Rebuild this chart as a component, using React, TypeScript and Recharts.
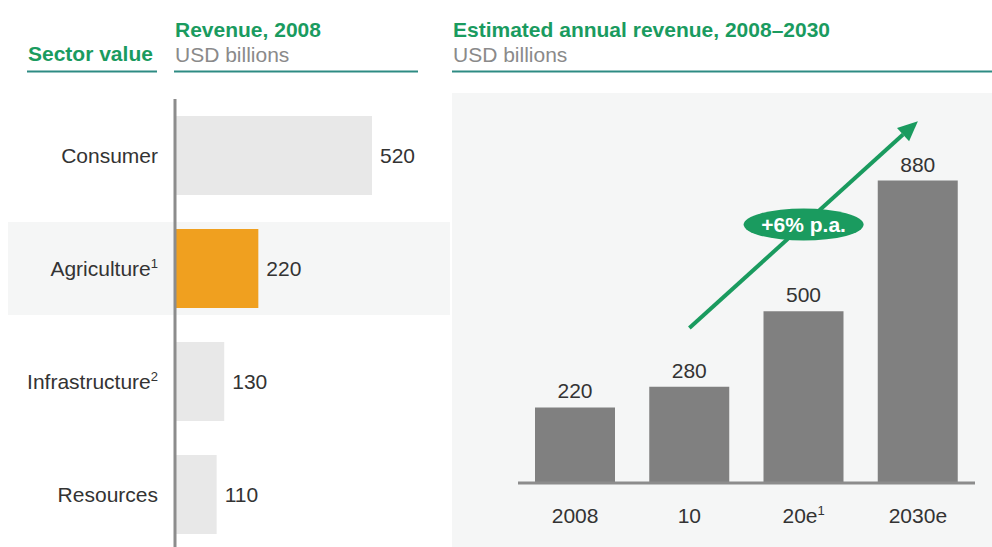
import React from 'react';
import { BarChart, Bar, XAxis, YAxis, Cell, LabelList, ReferenceArea, ReferenceLine } from 'recharts';

// ---- data ----
const sectors = ['Consumer', 'Agriculture', 'Infrastructure', 'Resources'];
const sectorFootnotes = ['', '1', '2', ''];
const sectorRevenue2008 = [520, 220, 130, 110];
const highlightSector = 'Agriculture';

const years = ['2008', '10', '20e', '2030e'];
const yearFootnotes = ['', '', '1', ''];
const annualRevenue = [220, 280, 500, 880];

const growthLabel = '+6% p.a.';
const growthArrow = [
  { x: '10', y: 451 },
  { x: '2030e', y: 1053 },
];

const leftTitle = 'Sector value';
const midTitle = 'Revenue, 2008';
const rightTitle = 'Estimated annual revenue, 2008\u20132030';
const unitLabel = 'USD billions';

// ---- styles ----
const FONT = '"Liberation Sans", Arial, Helvetica, sans-serif';
const GREEN = '#1a9b5f';
const RULE = '#2e8b83';
const TEXT = '#333333';
const SUB = '#8a8a8a';
const ORANGE = '#f0a01f';
const LIGHT = '#e8e8e8';
const DARK = '#808080';
const PANEL = '#f5f6f6';
const AXIS = '#8c8c8c';
const Y_AXIS_W = 167;

const sectorData = sectors.map((name, i) => ({ name, value: sectorRevenue2008[i], fn: sectorFootnotes[i] }));
const yearData = years.map((name, i) => ({ name, value: annualRevenue[i], fn: yearFootnotes[i] }));

const LeftTick = (props: any) => {
  const { x, y, payload } = props;
  const i = sectors.indexOf(payload.value);
  const fn = sectorFootnotes[i];
  return (
    <text x={x} y={y} dy="0.36em" textAnchor="end" fontSize={21} fill={TEXT} fontFamily={FONT}>
      {payload.value}
      {fn ? <tspan dy={-8} fontSize={13}>{fn}</tspan> : null}
    </text>
  );
};

const BottomTick = (props: any) => {
  const { x, y, payload } = props;
  const i = years.indexOf(payload.value);
  const fn = yearFootnotes[i];
  return (
    <text x={x} y={y} dy="0.71em" textAnchor="middle" fontSize={21} fill={TEXT} fontFamily={FONT}>
      {payload.value}
      {fn ? <tspan dy={-8} fontSize={13}>{fn}</tspan> : null}
    </text>
  );
};

const HighlightBand = (props: any) => {
  const { x, y, width, height } = props;
  return <rect x={x - Y_AXIS_W} y={y + 10} width={width + Y_AXIS_W} height={height - 20} fill={PANEL} />;
};

const ArrowShape = (p: any) => {
  const { x1, y1, x2, y2 } = p;
  if ([x1, y1, x2, y2].some((v) => typeof v !== 'number' || isNaN(v))) return <g />;
  const dx = x2 - x1;
  const dy = y2 - y1;
  const len = Math.hypot(dx, dy);
  const ux = dx / len;
  const uy = dy / len;
  const head = 20;
  const hw = 9;
  const bx = x2 - ux * head;
  const by = y2 - uy * head;
  const px = -uy;
  const py = ux;
  const mx = (x1 + x2) / 2;
  const my = (y1 + y2) / 2;
  return (
    <g>
      <line x1={x1} y1={y1} x2={bx} y2={by} stroke={GREEN} strokeWidth={4} />
      <polygon
        points={`${x2},${y2} ${bx + px * hw},${by + py * hw} ${bx - px * hw},${by - py * hw}`}
        fill={GREEN}
      />
      <ellipse cx={mx} cy={my} rx={60} ry={16} fill={GREEN} />
      <text x={mx} y={my} dy="0.36em" textAnchor="middle" fill="#ffffff" fontWeight="bold" fontSize={21} fontFamily={FONT}>
        {growthLabel}
      </text>
    </g>
  );
};

export default function App() {
  return (
    <div
      style={{
        position: 'absolute',
        left: 0,
        top: 0,
        width: 992,
        height: 547,
        overflow: 'hidden',
        background: '#ffffff',
        fontFamily: FONT,
      }}
    >
      {/* Right panel background */}
      <div style={{ position: 'absolute', left: 452, top: 93, width: 540, height: 454, background: PANEL }} />

      {/* Headers */}
      <svg width={992} height={90} style={{ position: 'absolute', left: 0, top: 0 }} fontFamily={FONT}>
        <text x={28} y={61} fontSize={21} fontWeight="bold" fill={GREEN}>{leftTitle}</text>
        <text x={175} y={37} fontSize={21} fontWeight="bold" fill={GREEN}>{midTitle}</text>
        <text x={175} y={62} fontSize={21} fill={SUB}>{unitLabel}</text>
        <text x={453} y={37} fontSize={21} fontWeight="bold" fill={GREEN}>{rightTitle}</text>
        <text x={453} y={62} fontSize={21} fill={SUB}>{unitLabel}</text>
        <line x1={27} x2={157} y1={71.5} y2={71.5} stroke={RULE} strokeWidth={2} />
        <line x1={174} x2={418} y1={71.5} y2={71.5} stroke={RULE} strokeWidth={2} />
        <line x1={452} x2={992} y1={71.5} y2={71.5} stroke={RULE} strokeWidth={2} />
      </svg>

      {/* Left: sector revenue 2008 */}
      <div style={{ position: 'absolute', left: 8, top: 99 }}>
        <BarChart
          layout="vertical"
          width={442}
          height={452}
          data={sectorData}
          margin={{ top: 0, right: 0, bottom: 0, left: 0 }}
          style={{ fontFamily: FONT }}
        >
          <XAxis type="number" domain={[0, 726]} hide />
          <ReferenceArea y1={highlightSector} y2={highlightSector} ifOverflow="visible" shape={HighlightBand} />
          <Bar dataKey="value" barSize={79} isAnimationActive={false}>
            {sectorData.map((d) => (
              <Cell key={d.name} fill={d.name === highlightSector ? ORANGE : LIGHT} />
            ))}
            <LabelList dataKey="value" position="right" offset={8} fill={TEXT} fontSize={21} />
          </Bar>
          <YAxis
            type="category"
            dataKey="name"
            width={Y_AXIS_W}
            tickLine={false}
            tickSize={0}
            tickMargin={17}
            axisLine={{ stroke: AXIS, strokeWidth: 3 }}
            tick={<LeftTick />}
            interval={0}
          />
        </BarChart>
      </div>

      {/* Right: estimated annual revenue */}
      <div style={{ position: 'absolute', left: 452, top: 93 }}>
        <BarChart
          width={540}
          height={454}
          data={yearData}
          margin={{ top: 12, right: 17, bottom: 10, left: 66 }}
          style={{ fontFamily: FONT }}
        >
          <YAxis type="number" domain={[0, 1100]} hide />
          <Bar dataKey="value" fill={DARK} barSize={80} isAnimationActive={false}>
            <LabelList dataKey="value" position="top" offset={9} fill={TEXT} fontSize={21} />
          </Bar>
          <XAxis
            dataKey="name"
            height={54}
            tickLine={false}
            tickSize={0}
            tickMargin={25}
            axisLine={{ stroke: AXIS, strokeWidth: 3 }}
            tick={<BottomTick />}
            interval={0}
          />
          <ReferenceLine segment={growthArrow} ifOverflow="visible" shape={ArrowShape} />
        </BarChart>
      </div>
    </div>
  );
}
